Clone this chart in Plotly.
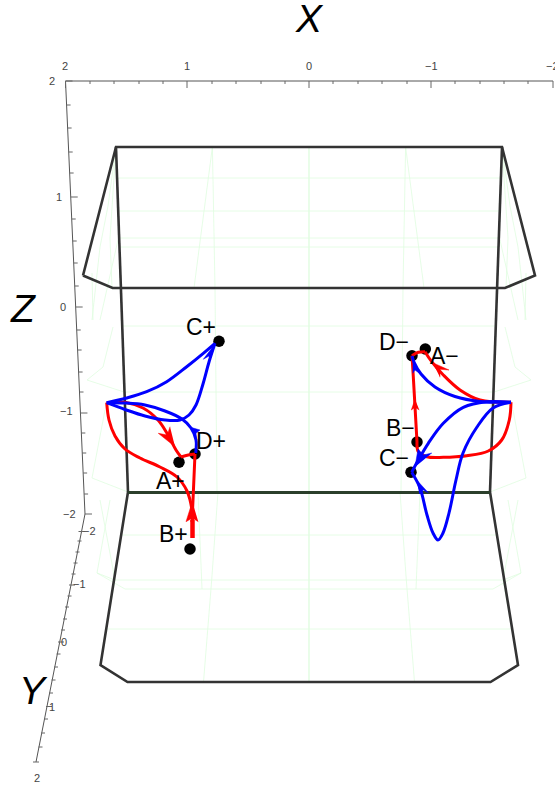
import plotly.graph_objects as go

# box outline
BOX_TOP = [(83, 275.5), (116, 147), (502, 147), (535, 275.5), (505, 288), (112.6, 288), (83, 275.5)]
BOX_LEFT = [(116, 147), (128, 492)]
BOX_RIGHT = [(502, 147), (490, 492)]
BOX_BOTTOM = [(128, 492), (100.5, 665), (127.5, 682), (490.5, 682), (518, 665), (490, 492)]
BOX_EDGE = [(128, 492.5), (490, 492.5)]

# faint green mesh
MESH_Y = [(178, 118, 500), (211, 119, 499), (238, 120, 498), (247, 120, 498),
          (326, 122, 496), (392, 124, 494), (535, 122, 496), (580, 115, 503),
          (589, 125, 493), (629, 106, 512)]
MESH_LEFT = [
    [(308.7, 147), (308.7, 682)],
    [(212.4, 147), (194, 288)],
    [(212.4, 147), (215, 288), (217, 492)],
    [(218, 492), (211.7, 580), (203.5, 682)],
    [(198, 492), (200, 535), (202, 589)],
    [(116, 147), (108, 206), (100, 247), (92, 320)],
    [(116, 147), (110, 238), (112, 288)],
    [(118, 240), (100, 320)],
    [(92, 273), (93, 320)],
    [(113, 327), (103, 367), (87, 380), (124, 392)],
    [(105, 410), (92, 478), (128, 492)],
    [(110, 500), (97, 573), (125, 589)],
    [(100, 500), (115, 580), (106, 629)],
    [(97, 573), (115, 580)],
]

# axis frame
AXIS_X = [(65.5, 81), (553, 81)]
AXIS_Z = [(65.5, 81), (85, 514)]
AXIS_Y = [(85, 514), (36, 762)]
TICKS_X_MINOR = [90, 114, 139, 163, 212, 236, 261, 285, 333, 358, 382, 407, 455, 480, 504, 528]
TICKS_X_MAJOR = [65.5, 187, 309, 431, 553]
TICKS_Z_MINOR = [105, 128, 152, 173, 219, 241, 263, 286, 330, 350, 372, 392, 433, 453, 473, 494]
TICKS_Z_MAJOR = [81, 197, 307, 413, 514]
TICKS_Y_MAJOR = [(81.5, 531.5), (72, 585), (61, 642), (49, 706.5), (36, 762)]
TICKS_Y_MINOR = [(79.5, 541), (77.5, 552), (75.5, 563), (73.5, 574), (69.5, 596), (67, 607),
                 (65, 619), (63, 630), (58.5, 654), (56, 667), (53.5, 680), (51, 693),
                 (46, 719), (43, 733), (40.5, 747)]

LABELS_X = [(65, 66, "2"), (187, 66, "1"), (309, 66, "0"), (431, 66, "\u22121"), (552, 66, "\u22122")]
LABELS_Z = [(52, 81, "2"), (59, 197, "1"), (63, 307, "0"), (66, 411, "\u22121"), (69, 514, "\u22122")]
LABELS_Y = [(89, 531, "\u22122"), (79, 584, "\u22121"), (64, 642, "0"), (51.5, 707, "1"), (37, 778, "2")]

# critical points
POINTS = [(219, 341.3), (195, 454), (179, 462.3), (190, 549),
          (412, 355.7), (425.3, 349), (417, 442), (411, 472.3)]
POINT_LABELS = [(201, 327, "C+"), (211, 441, "D+"), (170, 481, "A+"), (173, 534, "B+"),
                (394, 342, "D\u2212"), (444, 356, "A\u2212"), (400, 428, "B\u2212"), (394, 458, "C\u2212")]

# flow lines
BLUE_CURVES = [
    [(106.7, 402.7), (126.7, 398), (146.7, 391.7), (166.7, 381.7), (186.7, 366.7), (203.3, 353.3), (215, 343.3)],
    [(215, 343.3), (209, 362), (203, 384), (196, 405), (189, 415), (180, 420), (165, 420), (145, 416), (125, 409.5), (106.7, 402.7)],
    [(106.7, 402.7), (125, 403), (145, 405), (165, 411), (182, 419), (191, 428), (196, 440), (195.7, 453)],
    [(511, 402.3), (480, 401.5), (455, 396.5), (435, 387), (421, 374), (414, 362), (412, 356)],
    [(511, 402.3), (486.7, 401.7), (463.3, 407.3), (443.3, 423.3), (428.3, 443.3), (418.3, 460), (411.7, 472.3)],
    [(511, 402.3), (493, 408), (477, 427), (463, 453), (456, 480), (449, 513), (443, 533), (438, 540), (433, 533), (427, 515), (420, 488), (411.7, 472.3)],
]
RED_CURVES = [
    [(106.7, 402.7), (126, 402.5), (143, 408), (158, 420), (168, 435), (176, 450), (181, 457)],
    [(181, 457), (188.3, 455), (195, 454)],
    [(106.7, 402.7), (109, 420), (115, 436), (125, 449), (140, 458), (160, 467), (177, 477), (187, 491), (192, 510), (192.5, 522)],
    [(195, 454), (193, 500), (192, 522)],
    [(511, 402.3), (509.3, 420), (501.7, 440), (488.3, 451), (466.7, 455.7), (443.3, 457.3), (426.7, 456.7), (418.3, 451.7), (417, 442)],
    [(417, 442), (415, 406.7), (413.3, 376.7), (412, 355.7)],
    [(412, 355.7), (418.3, 352.3), (425, 351.7)],
    [(425, 351.7), (431.7, 361.7), (443.3, 375), (460, 390), (480, 400), (511, 402.3)],
]
RED_STEM = [(192.5, 520), (192.5, 538)]

# arrow heads: tip, barb, notch, barb
BLUE_HEADS = [
    [(190.7, 427.3), (200, 430), (196, 433.3), (196.7, 440)],
    [(215, 344), (203.3, 359.3), (209, 356), (210.7, 359.3)],
    [(415, 467), (418, 449), (423.3, 455), (432, 453)],
    [(412.7, 361.7), (419.3, 373.3), (415, 370), (412.7, 373.3)],
    [(416.7, 480), (428.3, 492.7), (423.3, 490), (419.3, 494)],
]
RED_HEADS = [
    [(175, 446.7), (158.3, 433.3), (167.3, 435), (170, 426.7)],
    [(192.3, 501.7), (186, 521.7), (192.3, 518), (198.3, 521.7)],
    [(432.7, 362.7), (449, 370), (440, 369.3), (440, 377.3)],
    [(415, 399.3), (411.3, 410), (415, 407.3), (419.3, 410)],
]


def segs(paths):
    xs, ys = [], []
    for p in paths:
        xs += [q[0] for q in p] + [None]
        ys += [q[1] for q in p] + [None]
    return xs, ys


def add_lines(fig, paths, color, width, shape="linear"):
    xs, ys = segs(paths)
    line = dict(color=color, width=width, shape=shape)
    if shape == "spline":
        line["smoothing"] = 1.0
    fig.add_trace(go.Scatter(x=xs, y=ys, mode="lines", line=line, connectgaps=False, hoverinfo="skip"))


def mirrored(paths):
    return [[(618 - x, y) for x, y in p] for p in paths]


fig = go.Figure()

# mesh
mesh = [[(x0, y), (x1, y)] for y, x0, x1 in MESH_Y] + MESH_LEFT + mirrored(MESH_LEFT)
add_lines(fig, mesh, "#e0fce0", 0.8)

# axes
add_lines(fig, [AXIS_X, AXIS_Z, AXIS_Y], "#555555", 1)
tk = [[(x, 81), (x, 84)] for x in TICKS_X_MINOR] + [[(x, 81), (x, 88)] for x in TICKS_X_MAJOR]
tk += [[(65.5 + (y - 81) * 0.045, y), (65.5 + (y - 81) * 0.045 + 4, y)] for y in TICKS_Z_MINOR]
tk += [[(65.5 + (y - 81) * 0.045, y), (65.5 + (y - 81) * 0.045 + 7, y)] for y in TICKS_Z_MAJOR]
tk += [[(x - 3, y), (x + 3, y)] for x, y in TICKS_Y_MAJOR]
tk += [[(x - 2, y), (x + 2, y)] for x, y in TICKS_Y_MINOR]
add_lines(fig, tk, "#666666", 1)

# box
add_lines(fig, [BOX_TOP, BOX_LEFT, BOX_RIGHT, BOX_BOTTOM], "#333333", 2.6)
add_lines(fig, [BOX_EDGE], "#2b3f2b", 2.8)

# points under the curves
fig.add_trace(go.Scatter(
    x=[p[0] for p in POINTS], y=[p[1] for p in POINTS], mode="markers",
    marker=dict(color="black", size=11.5), hoverinfo="skip",
))

add_lines(fig, RED_CURVES, "#ff0000", 3, "spline")
add_lines(fig, BLUE_CURVES, "#0000ff", 3, "spline")
add_lines(fig, [RED_STEM], "#ff0000", 4.5)

for head in RED_HEADS:
    fig.add_trace(go.Scatter(x=[q[0] for q in head], y=[q[1] for q in head], mode="lines",
                             fill="toself", fillcolor="#ff0000", line=dict(color="#ff0000", width=0.5),
                             hoverinfo="skip"))
for head in BLUE_HEADS:
    fig.add_trace(go.Scatter(x=[q[0] for q in head], y=[q[1] for q in head], mode="lines",
                             fill="toself", fillcolor="#0000ff", line=dict(color="#0000ff", width=0.5),
                             hoverinfo="skip"))


def add_text(x, y, text, size, color="black", italic=False):
    fig.add_annotation(x=x, y=y, xref="x", yref="y", text=f"<i>{text}</i>" if italic else text,
                       showarrow=False, font=dict(size=size, color=color, family="Liberation Sans"),
                       xanchor="center", yanchor="middle")


for x, y, t in LABELS_X + LABELS_Z + LABELS_Y:
    add_text(x, y, t, 11, "#444444")
for x, y, t in POINT_LABELS:
    add_text(x, y, t, 23)
add_text(309, 18, "X", 39, italic=True)
add_text(23, 308, "Z", 39, italic=True)
add_text(33, 690, "Y", 39, italic=True)

fig.update_layout(
    width=555, height=785, showlegend=False,
    margin=dict(l=0, r=0, t=0, b=0),
    paper_bgcolor="white", plot_bgcolor="white",
    xaxis=dict(range=[0, 555], visible=False, fixedrange=True),
    yaxis=dict(range=[785, 0], visible=False, fixedrange=True),
)
# the page's default body margin would push the plot 8px in
fig.write_html("out.html", config=dict(displayModeBar=False),
               post_script="document.body.style.margin='0';document.body.style.overflow='hidden';")
